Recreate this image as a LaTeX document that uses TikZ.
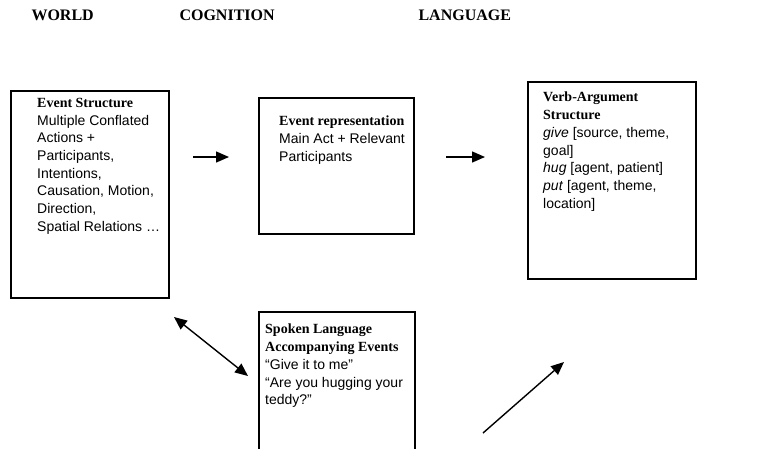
\documentclass[tikz,border=0pt]{standalone}
\usepackage{fontspec}
\setmainfont{Liberation Serif}
\setsansfont{Liberation Sans}
\usetikzlibrary{arrows.meta}

\begin{document}
\begin{tikzpicture}[x=1pt,y=-1pt,
    heading/.style={font=\rmfamily\bfseries\fontsize{16}{19}\selectfont,anchor=west},
    box/.style={draw,line width=1.6pt,anchor=north west,inner sep=0pt},
    boxtext/.style={anchor=north west,align=left,inner sep=0pt,
        font=\sffamily\fontsize{14}{17.7}\selectfont},
    conn/.style={-{Triangle[length=13pt,width=11pt]},line width=1.4pt},
    bothconn/.style={{Triangle[length=13pt,width=11pt]}-{Triangle[length=13pt,width=11pt]},line width=1.4pt}]
\useasboundingbox (0,0) rectangle (768,448);
    % column headings
    \node[heading] (hworld) at (28,15) {WORLD};
    \node[heading] (hcog) at (176,15) {COGNITION};
    \node[heading] (hlang) at (415,15) {LANGUAGE};
    % boxes
    \node[box,minimum width=158,minimum height=207] (world) at (10,90) {};
    \node[box,minimum width=155,minimum height=136] (cog) at (258,97) {};
    \node[box,minimum width=168,minimum height=197] (lang) at (527,81) {};
    \node[box,minimum width=156,minimum height=150] (spoken) at (258,311) {};
    % box texts
    \node[boxtext] (worldtxt) at ([xshift=27,yshift=-8]world.north west)
        {{\rmfamily\bfseries Event Structure}\\Multiple Conflated\\Actions +\\Participants,\\Intentions,\\Causation, Motion,\\Direction,\\Spatial Relations …};
    \node[boxtext] (cogtxt) at ([xshift=21,yshift=-19]cog.north west)
        {{\rmfamily\bfseries Event representation}\\Main Act + Relevant\\Participants};
    \node[boxtext] (langtxt) at ([xshift=16,yshift=-11]lang.north west)
        {{\rmfamily\bfseries Verb-Argument}\\{\rmfamily\bfseries Structure}\\\textit{give} [source, theme,\\goal]\\\textit{hug} [agent, patient]\\\textit{put} [agent, theme,\\location]};
    \node[boxtext] (spokentxt) at ([xshift=7,yshift=-13]spoken.north west)
        {{\rmfamily\bfseries Spoken Language}\\{\rmfamily\bfseries Accompanying Events}\\“Give it to me”\\“Are you hugging your\\teddy?”};
    % arrow ends
    \coordinate (w2c) at (193,157);
    \coordinate (c2w) at (229,157);
    \coordinate (c2l) at (446,157);
    \coordinate (l2c) at (485,157);
    \coordinate (wsp) at (174,317);
    \coordinate (spw) at (248,376);
    \coordinate (spl) at (483,433);
    \coordinate (lsp) at (564,362);
    \draw[conn] (w2c) -- (c2w);
    \draw[conn] (c2l) -- (l2c);
    \draw[bothconn] (wsp) -- (spw);
    \draw[conn] (spl) -- (lsp);
\end{tikzpicture}
\end{document}
